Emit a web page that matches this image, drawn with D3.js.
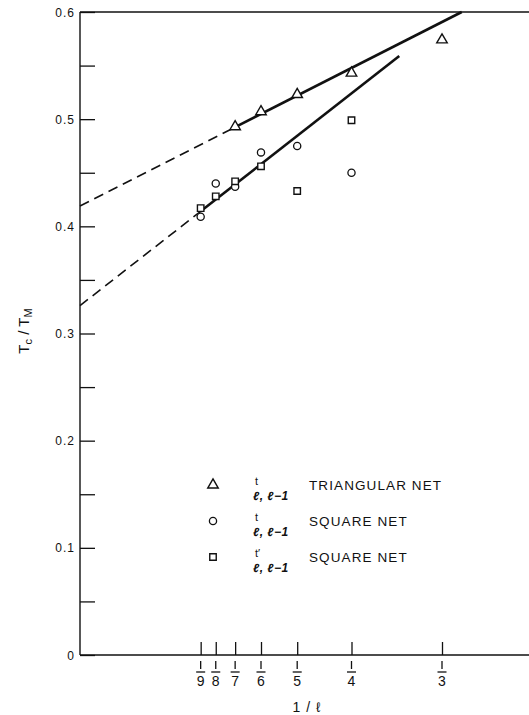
<!DOCTYPE html>
<html>
<head>
<meta charset="utf-8">
<script src="https://cdn.jsdelivr.net/npm/d3@7"></script>
<style>
  html, body { margin: 0; padding: 0; background: #fff; }
  svg { display: block; }
  text { font-family: "Liberation Sans", Arial, sans-serif; fill: #111; }
</style>
</head>
<body>
<svg id="chart" width="529" height="715"></svg>
<script>
// ---- data ----
const xTickDenoms = [9, 8, 7, 6, 5, 4, 3];
const yTickLabels = ["0", "0.1", "0.2", "0.3", "0.4", "0.5", "0.6"];
const yMajor = [0, 0.1, 0.2, 0.3, 0.4, 0.5, 0.6];
const yMinor = [0.05, 0.15, 0.25, 0.35, 0.45, 0.55];

const triX = [1/7, 1/6, 1/5, 1/4, 1/3];
const triY = [0.493, 0.507, 0.523, 0.543, 0.574];

const circX = [1/9, 1/8, 1/7, 1/6, 1/5, 1/4];
const circY = [0.409, 0.440, 0.437, 0.469, 0.475, 0.450];

const sqX = [1/9, 1/8, 1/7, 1/6, 1/5, 1/4];
const sqY = [0.417, 0.428, 0.442, 0.456, 0.433, 0.499];

// fitted lines: [u, value] endpoints
const upperDashed = [[0, 0.419], [1/7, 0.4926]];
const upperSolid  = [[1/7, 0.4926], [0.3515, 0.600]];
const lowerDashed = [[0, 0.326], [1/9, 0.414]];
const lowerSolid  = [[1/9, 0.414], [0.294, 0.559]];

const legendLabels = ["TRIANGULAR NET", "SQUARE NET", "SQUARE NET"];
const legendSymbols = ["t", "t", "t′"];

// ---- scales ----
const x = d3.scaleLinear().domain([0, 1/3]).range([80, 442]);
const y = d3.scaleLinear().domain([0, 0.6]).range([655, 12]);

const svg = d3.select("#chart");

// frame
svg.append("line").attr("x1", 80).attr("x2", 80).attr("y1", y(0.6)).attr("y2", y(0))
  .attr("stroke", "#111").attr("stroke-width", 1.4);
svg.append("line").attr("x1", 80).attr("x2", 529).attr("y1", y(0.6)).attr("y2", y(0.6))
  .attr("stroke", "#111").attr("stroke-width", 1.4);
svg.append("line").attr("x1", 80).attr("x2", 529).attr("y1", y(0)).attr("y2", y(0))
  .attr("stroke", "#111").attr("stroke-width", 1.4);

// y ticks (inward)
const yAxis = d3.axisRight(y).tickValues(yMajor.concat(yMinor)).tickSize(15).tickFormat("");
const gy = svg.append("g").attr("transform", "translate(80,0)").call(yAxis);
gy.select(".domain").remove();
gy.selectAll(".tick line").attr("stroke", "#111").attr("stroke-width", 1.3);

svg.append("g").selectAll("text").data(yMajor).join("text")
  .attr("x", 75).attr("y", d => y(d) + 4.5)
  .attr("text-anchor", "end")
  .attr("font-size", 12).attr("letter-spacing", 1)
  .text((d, i) => yTickLabels[i]);

// x ticks (upward) + fraction labels
const xVals = xTickDenoms.map(n => 1 / n);
const xAxis = d3.axisTop(x).tickValues(xVals).tickSize(13).tickFormat("");
const gx = svg.append("g").attr("transform", `translate(0,${y(0)})`).call(xAxis);
gx.select(".domain").remove();
gx.selectAll(".tick line").attr("stroke", "#111").attr("stroke-width", 1.3);

const frac = svg.append("g").selectAll("g").data(xTickDenoms).join("g")
  .attr("transform", d => `translate(${x(1 / d)},0)`);
frac.append("line").attr("x1", 0).attr("x2", 0).attr("y1", 661).attr("y2", 669)
  .attr("stroke", "#111").attr("stroke-width", 1.3);
frac.append("line").attr("x1", -4.5).attr("x2", 4.5).attr("y1", 672).attr("y2", 672)
  .attr("stroke", "#111").attr("stroke-width", 1.3);
frac.append("text").attr("x", 0).attr("y", 685.5).attr("text-anchor", "middle")
  .attr("font-size", 14).text(d => d);

// axis titles
svg.append("text").attr("x", 307).attr("y", 712).attr("text-anchor", "middle")
  .attr("font-size", 14).attr("letter-spacing", 1).text("1 / ℓ");

const yt = svg.append("text").attr("transform", "translate(29,331) rotate(-90)")
  .attr("text-anchor", "middle").attr("font-size", 15);
yt.append("tspan").text("T");
yt.append("tspan").attr("font-size", 11).attr("dy", 3).text("c");
yt.append("tspan").attr("dy", -3).text(" / T");
yt.append("tspan").attr("font-size", 11).attr("dy", 3).text("M");

// fitted lines
const line = d3.line().x(d => x(d[0])).y(d => y(d[1]));
[upperDashed, lowerDashed].forEach(seg => {
  svg.append("path").attr("d", line(seg)).attr("fill", "none")
    .attr("stroke", "#111").attr("stroke-width", 1.6).attr("stroke-dasharray", "10,6");
});
[upperSolid, lowerSolid].forEach(seg => {
  svg.append("path").attr("d", line(seg)).attr("fill", "none")
    .attr("stroke", "#111").attr("stroke-width", 2.6);
});

// markers
const triPath = d3.symbol().type(d3.symbolTriangle).size(48);
const sqPath = d3.symbol().type(d3.symbolSquare).size(42);

svg.append("g").selectAll("path").data(triX).join("path")
  .attr("d", triPath)
  .attr("transform", (d, i) => `translate(${x(d)},${y(triY[i])})`)
  .attr("fill", "#fff").attr("stroke", "#111").attr("stroke-width", 1.4);

svg.append("g").selectAll("circle").data(circX).join("circle")
  .attr("cx", d => x(d)).attr("cy", (d, i) => y(circY[i])).attr("r", 3.6)
  .attr("fill", "#fff").attr("stroke", "#111").attr("stroke-width", 1.3);

svg.append("g").selectAll("path").data(sqX).join("path")
  .attr("d", sqPath)
  .attr("transform", (d, i) => `translate(${x(d)},${y(sqY[i])})`)
  .attr("fill", "#fff").attr("stroke", "#111").attr("stroke-width", 1.4);

// legend
const legY = [485, 521, 557];
const lg = svg.append("g");
lg.append("path").attr("d", triPath).attr("transform", `translate(213,${legY[0]})`)
  .attr("fill", "#fff").attr("stroke", "#111").attr("stroke-width", 1.4);
lg.append("circle").attr("cx", 213).attr("cy", legY[1]).attr("r", 3.6)
  .attr("fill", "#fff").attr("stroke", "#111").attr("stroke-width", 1.3);
lg.append("path").attr("d", sqPath).attr("transform", `translate(213,${legY[2]})`)
  .attr("fill", "#fff").attr("stroke", "#111").attr("stroke-width", 1.4);

legY.forEach((ly, i) => {
  lg.append("text").attr("x", 255).attr("y", ly).attr("font-size", 11)
    .text(legendSymbols[i]);
  lg.append("text").attr("x", 253).attr("y", ly + 15).attr("font-size", 12)
    .attr("font-style", "italic").attr("font-weight", "bold").attr("letter-spacing", 0.5)
    .text("ℓ, ℓ−1");
  lg.append("text").attr("x", 309).attr("y", ly + 5).attr("font-size", 13.5)
    .attr("letter-spacing", 1.1).text(legendLabels[i]);
});
</script>
</body>
</html>
